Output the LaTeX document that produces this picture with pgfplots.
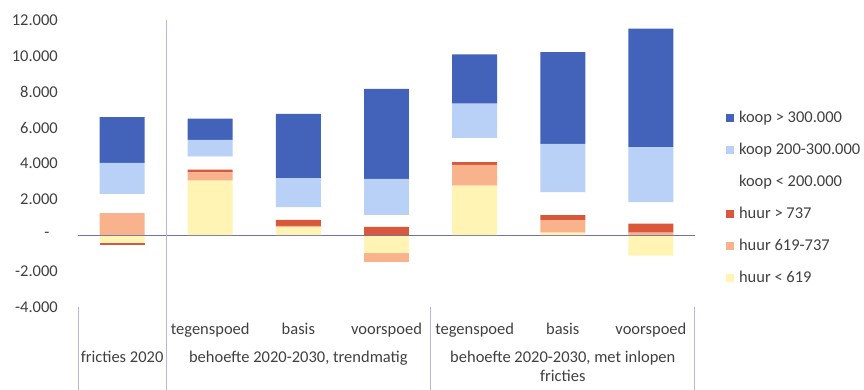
\documentclass[border=0pt]{standalone}
\usepackage{pgfplots}
\pgfplotsset{compat=1.18}
\usepackage{pgfplotstable}
\usepackage{fontspec}
\setmainfont{Carlito}

\definecolor{kHigh}{HTML}{4263B9}
\definecolor{kMid}{HTML}{B9D0F7}
\definecolor{kLow}{HTML}{FFFFFF}
\definecolor{hHigh}{HTML}{D9573B}
\definecolor{hMid}{HTML}{F8B28C}
\definecolor{hLow}{HTML}{FFF4B3}
\definecolor{txt}{HTML}{404040}
\definecolor{zeroline}{HTML}{6E73AA}
\definecolor{sepline}{HTML}{B6B6E6}

% positive parts of each segment (stacked upward from 0)
\pgfplotstableread{
x  hlow  hmid  hhigh  klow  kmid  khigh
0  0     1230  0      1065  1735  2560
1  3040  470   150    720   940   1180
2  450   70    340    690   1640  3580
3  0     0     470    650   2020  5020
4  2760  1160  150    1340  1925  2745
5  150   690   280    1270  2705  5115
6  0     150   500    1180  3080  6610
}\postable

% negative parts of each segment (stacked downward from 0)
\pgfplotstableread{
x  hlow   hmid  hhigh
0  -410   0     -130
1  0      0     0
2  0      0     0
3  -990   -500  0
4  0      0     0
5  0      0     0
6  -1130  0     0
}\negtable

\pgfplotsset{
  frame/.style={
    scale only axis, width=617bp, height=287bp,
    at={(78bp,83bp)}, anchor=south west,
    xmin=-0.5, xmax=6.5, ymin=-4000, ymax=12000,
    scaled y ticks=false,
    ybar stacked, bar width=0.51,
    clip=false,
  },
  seg/.style={fill=#1, draw=none},
}

\begin{document}
\begin{tikzpicture}[font=\fontsize{16.5bp}{19.5bp}\selectfont, text=txt]
\useasboundingbox (0,0) rectangle (864bp,390bp);

% negative stack
\begin{axis}[frame, hide axis]
  \addplot[seg=hLow]  table[x=x, y=hlow]  {\negtable};
  \addplot[seg=hMid]  table[x=x, y=hmid]  {\negtable};
  \addplot[seg=hHigh] table[x=x, y=hhigh] {\negtable};
\end{axis}

% positive stack, ticks, legend
\begin{axis}[frame,
  axis line style={draw=none},
  major tick length=0pt,
  ytick={-4000,-2000,0,2000,4000,6000,8000,10000,12000},
  yticklabels={-4.000,-2.000,{-\hphantom{0}},2.000,4.000,6.000,8.000,10.000,12.000},
  yticklabel style={anchor=east, inner sep=0pt, xshift=-20bp, text=txt},
  xtick={1,2,3,4,5,6},
  xticklabels={tegenspoed,basis,voorspoed,tegenspoed,basis,voorspoed},
  xticklabel style={anchor=base, inner sep=0pt, yshift=-27bp, text=txt},
  reverse legend,
  legend cell align=left,
  legend style={at={(1.050,0.686)}, anchor=north west, draw=none, fill=none,
    inner sep=0pt, row sep=16bp, text=txt,
    nodes={inner sep=1bp, text height=11bp, text depth=3bp},
    /tikz/every odd column/.append style={column sep=4bp}},
  legend image code/.code={\fill[#1] (0bp,-4bp) rectangle (8bp,4bp);},
]
  \addplot[seg=hLow]  table[x=x, y=hlow]  {\postable};
  \addlegendentry{huur < 619}
  \addplot[seg=hMid]  table[x=x, y=hmid]  {\postable};
  \addlegendentry{huur 619-737}
  \addplot[seg=hHigh] table[x=x, y=hhigh] {\postable};
  \addlegendentry{huur > 737}
  \addplot[seg=kLow]  table[x=x, y=klow]  {\postable};
  \addlegendentry{koop < 200.000}
  \addplot[seg=kMid]  table[x=x, y=kmid]  {\postable};
  \addlegendentry{koop 200-300.000}
  \addplot[seg=kHigh] table[x=x, y=khigh] {\postable};
  \addlegendentry{koop > 300.000}

  % value axis line and category group separators
  \draw[sepline, line width=1bp] (axis cs:0.5,12000) -- (axis cs:0.5,-8626);
  \draw[sepline, line width=1bp] (axis cs:-0.5,-4000) -- (axis cs:-0.5,-8626);
  \draw[sepline, line width=1bp] (axis cs:3.5,-4000) -- (axis cs:3.5,-8626);
  \draw[sepline, line width=1bp] (axis cs:6.5,-4000) -- (axis cs:6.5,-8626);
  % zero line
  \draw[zeroline, line width=1.3bp] (axis cs:-0.5,0) -- (axis cs:6.5,0);

  % group labels
  \node[anchor=base, text=txt] at (axis cs:0,-7070) {fricties 2020};
  \node[anchor=base, text=txt] at (axis cs:2,-7070) {behoefte 2020-2030, trendmatig};
  \node[anchor=base, text=txt] at (axis cs:5,-7070) {behoefte 2020-2030, met inlopen};
  \node[anchor=base, text=txt] at (axis cs:5,-8180) {fricties};
\end{axis}
\end{tikzpicture}
\end{document}
